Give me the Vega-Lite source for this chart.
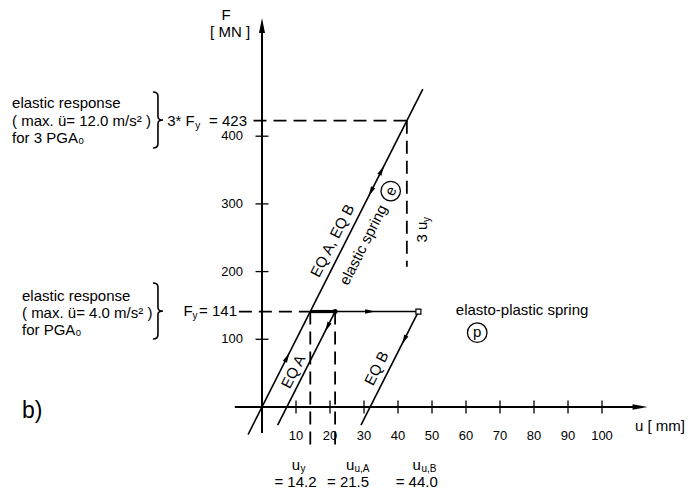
{
  "$schema": "https://vega.github.io/schema/vega-lite/v6.json",
  "width": 690,
  "height": 492,
  "autosize": "none",
  "padding": 0,
  "background": "white",
  "config": {"view": {"stroke": null}, "text": {"font": "Liberation Sans", "color": "black", "baseline": "middle"}},
  "datasets": {
    "axes": [
      {"seg": "x", "o": 1, "u": -8, "F": 0}, {"seg": "x", "o": 2, "u": 111.2, "F": 0},
      {"seg": "y", "o": 1, "u": 0, "F": -38.4}, {"seg": "y", "o": 2, "u": 0, "F": 557}
    ],
    "solid": [
      {"seg": "elastic", "o": 1, "u": -4.1, "F": -40.7}, {"seg": "elastic", "o": 2, "u": 47.3, "F": 469.7},
      {"seg": "eqa", "o": 1, "u": 21.5, "F": 141}, {"seg": "eqa", "o": 2, "u": 4.6, "F": -26.8},
      {"seg": "eqb", "o": 1, "u": 46, "F": 141}, {"seg": "eqb", "o": 2, "u": 29.1, "F": -26.8},
      {"seg": "plateau", "o": 1, "u": 14.2, "F": 141}, {"seg": "plateau", "o": 2, "u": 46, "F": 141}
    ],
    "thick": [
      {"seg": "p", "o": 1, "u": 14.2, "F": 141}, {"seg": "p", "o": 2, "u": 21.5, "F": 141}
    ],
    "dashed": [
      {"seg": "h423", "o": 1, "u": -2.5, "F": 423}, {"seg": "h423", "o": 2, "u": 42.6, "F": 423},
      {"seg": "v3uy", "o": 1, "u": 42.6, "F": 423}, {"seg": "v3uy", "o": 2, "u": 42.6, "F": 207},
      {"seg": "h141", "o": 1, "u": -6.8, "F": 141}, {"seg": "h141", "o": 2, "u": 14.2, "F": 141},
      {"seg": "vuy", "o": 1, "u": 14.2, "F": 141}, {"seg": "vuy", "o": 2, "u": 14.2, "F": -59},
      {"seg": "vua", "o": 1, "u": 21.5, "F": 141}, {"seg": "vua", "o": 2, "u": 21.5, "F": -59}
    ],
    "xticks": [{"u": 10, "F": 0}, {"u": 20, "F": 0}, {"u": 30, "F": 0}, {"u": 40, "F": 0}, {"u": 50, "F": 0}, {"u": 60, "F": 0}, {"u": 70, "F": 0}, {"u": 80, "F": 0}, {"u": 90, "F": 0}, {"u": 100, "F": 0}],
    "yticks": [{"u": 0, "F": 100}, {"u": 0, "F": 200}, {"u": 0, "F": 300}, {"u": 0, "F": 400}],
    "arrowX": [{"u": 111.2, "F": 0}],
    "arrowY": [{"u": 0, "F": 563.5}],
    "upArrows": [{"u": 7.4, "F": 73.5}, {"u": 35.2, "F": 349.5}],
    "downArrows": [{"u": 32, "F": 317.8}, {"u": 19.2, "F": 118}, {"u": 41.8, "F": 99}],
    "rightArrows": [{"u": 31.8, "F": 141}],
    "dot": [{"u": 21.5, "F": 141}],
    "square": [{"u": 46, "F": 141}],
    "circles": [{"u": 37.85, "F": 319}, {"u": 63.3, "F": 109.7}],
    "braces": [{"u": -30.6, "F": 423.9}, {"u": -30.6, "F": 141.8}],
    "tLeft": [
      {"t": "elastic response", "u": -73.5, "F": 449},
      {"t": "( max. ü= 12.0 m/s² )", "u": -73.5, "F": 422.5},
      {"t": "for 3 PGA₀", "u": -73.5, "F": 397.3},
      {"t": "elastic response", "u": -70.6, "F": 164},
      {"t": "( max. ü= 4.0 m/s² )", "u": -70.6, "F": 138.8},
      {"t": "for PGA₀", "u": -70.6, "F": 113.7},
      {"t": "3* F", "u": -27.9, "F": 422.5},
      {"t": "F", "u": -23.1, "F": 141.8},
      {"t": "elasto-plastic spring", "u": 57, "F": 143},
      {"t": "u  [ mm]", "u": 109.7, "F": -28}
    ],
    "tRight": [
      {"t": "= 423", "u": -4.4, "F": 422.5},
      {"t": "= 141", "u": -7.35, "F": 141.8}
    ],
    "tCenter": [
      {"t": "F", "u": -10.6, "F": 579},
      {"t": "[ MN ]", "u": -9.4, "F": 554},
      {"t": "p", "u": 63.3, "F": 110.5},
      {"t": "u", "u": 10, "F": -85.7},
      {"t": "u", "u": 25.9, "F": -85.7},
      {"t": "u", "u": 45.5, "F": -85.7},
      {"t": "= 14.2", "u": 9.85, "F": -110.8},
      {"t": "= 21.5", "u": 25.3, "F": -110.8},
      {"t": "= 44.0", "u": 45.5, "F": -110.8}
    ],
    "tSub": [
      {"t": "y", "u": -19.6, "F": 415.5},
      {"t": "y", "u": -20.45, "F": 135},
      {"t": "y", "u": 11.3, "F": -91.6},
      {"t": "u,A", "u": 27.2, "F": -91.6},
      {"t": "u,B", "u": 46.9, "F": -91.6}
    ],
    "tRot63": [
      {"t": "EQ A, EQ B", "u": 20.7, "F": 245.6},
      {"t": "elastic spring", "u": 29.8, "F": 239.3},
      {"t": "e", "u": 37.85, "F": 319},
      {"t": "EQ A", "u": 9.2, "F": 52.2},
      {"t": "EQ B", "u": 33.7, "F": 57.2}
    ],
    "tRot90": [{"t": "3 u", "u": 47.0, "F": 258.5}],
    "tRot90Sub": [{"t": "y", "u": 48.4, "F": 277}],
    "tBig": [{"t": "b)", "u": -67.6, "F": -5.9}]
  },
  "encoding": {
    "x": {"field": "u", "type": "quantitative", "scale": {"domain": [-77.06, 125.88], "nice": false, "zero": false}, "axis": null},
    "y": {"field": "F", "type": "quantitative", "scale": {"domain": [-125.6, 601.2], "nice": false, "zero": false}, "axis": null}
  },
  "layer": [
    {"data": {"name": "axes"}, "mark": {"type": "line", "color": "black", "strokeWidth": 2}, "encoding": {"detail": {"field": "seg"}, "order": {"field": "o"}}},
    {"data": {"name": "solid"}, "mark": {"type": "line", "color": "black", "strokeWidth": 1.6}, "encoding": {"detail": {"field": "seg"}, "order": {"field": "o"}}},
    {"data": {"name": "thick"}, "mark": {"type": "line", "color": "black", "strokeWidth": 3.2}, "encoding": {"detail": {"field": "seg"}, "order": {"field": "o"}}},
    {"data": {"name": "dashed"}, "mark": {"type": "line", "color": "black", "strokeWidth": 1.8, "strokeDash": [13, 7]}, "encoding": {"detail": {"field": "seg"}, "order": {"field": "o"}}},
    {"data": {"name": "xticks"}, "mark": {"type": "tick", "orient": "vertical", "size": 13, "thickness": 1.3, "color": "black", "opacity": 1}},
    {"data": {"name": "yticks"}, "mark": {"type": "tick", "orient": "horizontal", "size": 13, "thickness": 1.3, "color": "black", "opacity": 1}},
    {"data": {"name": "xticks"}, "mark": {"type": "text", "fontSize": 13, "align": "center", "dy": 29}, "encoding": {"text": {"field": "u", "type": "quantitative"}}},
    {"data": {"name": "yticks"}, "mark": {"type": "text", "fontSize": 13, "align": "right", "dx": -19}, "encoding": {"text": {"field": "F", "type": "quantitative"}}},
    {"data": {"name": "arrowX"}, "mark": {"type": "point", "shape": "M1,0L-1,-0.36L-1,0.36Z", "size": 225, "filled": true, "color": "black", "opacity": 1}},
    {"data": {"name": "arrowY"}, "mark": {"type": "point", "shape": "M0,-1L-0.4,1L0.4,1Z", "size": 225, "filled": true, "color": "black", "opacity": 1}},
    {"data": {"name": "upArrows"}, "mark": {"type": "point", "shape": "M0,-1L0.45,1L-0.45,1Z", "size": 100, "angle": 26.8, "filled": true, "color": "black", "opacity": 1}},
    {"data": {"name": "downArrows"}, "mark": {"type": "point", "shape": "M0,-1L0.45,1L-0.45,1Z", "size": 100, "angle": 206.8, "filled": true, "color": "black", "opacity": 1}},
    {"data": {"name": "rightArrows"}, "mark": {"type": "point", "shape": "M0,-1L0.45,1L-0.45,1Z", "size": 100, "angle": 90, "filled": true, "color": "black", "opacity": 1}},
    {"data": {"name": "dot"}, "mark": {"type": "point", "shape": "circle", "size": 25, "filled": true, "color": "black", "opacity": 1}},
    {"data": {"name": "square"}, "mark": {"type": "point", "shape": "square", "size": 25, "filled": true, "fill": "white", "stroke": "black", "strokeWidth": 1.2, "opacity": 1}},
    {"data": {"name": "circles"}, "mark": {"type": "point", "shape": "circle", "size": 380, "filled": false, "stroke": "black", "strokeWidth": 1.3, "opacity": 1}},
    {"data": {"name": "braces"}, "mark": {"type": "point", "shape": "M-0.18,-1Q0,-1 0,-0.85L0,-0.12Q0,0 0.18,0Q0,0 0,0.12L0,0.85Q0,1 -0.18,1", "size": 3136, "filled": false, "stroke": "black", "strokeWidth": 1.6, "opacity": 1}},
    {"data": {"name": "tLeft"}, "mark": {"type": "text", "fontSize": 15, "align": "left"}, "encoding": {"text": {"field": "t"}}},
    {"data": {"name": "tRight"}, "mark": {"type": "text", "fontSize": 15, "align": "right"}, "encoding": {"text": {"field": "t"}}},
    {"data": {"name": "tCenter"}, "mark": {"type": "text", "fontSize": 15, "align": "center"}, "encoding": {"text": {"field": "t"}}},
    {"data": {"name": "tSub"}, "mark": {"type": "text", "fontSize": 10, "align": "left"}, "encoding": {"text": {"field": "t"}}},
    {"data": {"name": "tRot63"}, "mark": {"type": "text", "fontSize": 15, "align": "center", "angle": -63.2}, "encoding": {"text": {"field": "t"}}},
    {"data": {"name": "tRot90"}, "mark": {"type": "text", "fontSize": 15, "align": "center", "angle": -90}, "encoding": {"text": {"field": "t"}}},
    {"data": {"name": "tRot90Sub"}, "mark": {"type": "text", "fontSize": 10, "align": "center", "angle": -90}, "encoding": {"text": {"field": "t"}}},
    {"data": {"name": "tBig"}, "mark": {"type": "text", "fontSize": 23, "align": "center"}, "encoding": {"text": {"field": "t"}}}
  ]
}
